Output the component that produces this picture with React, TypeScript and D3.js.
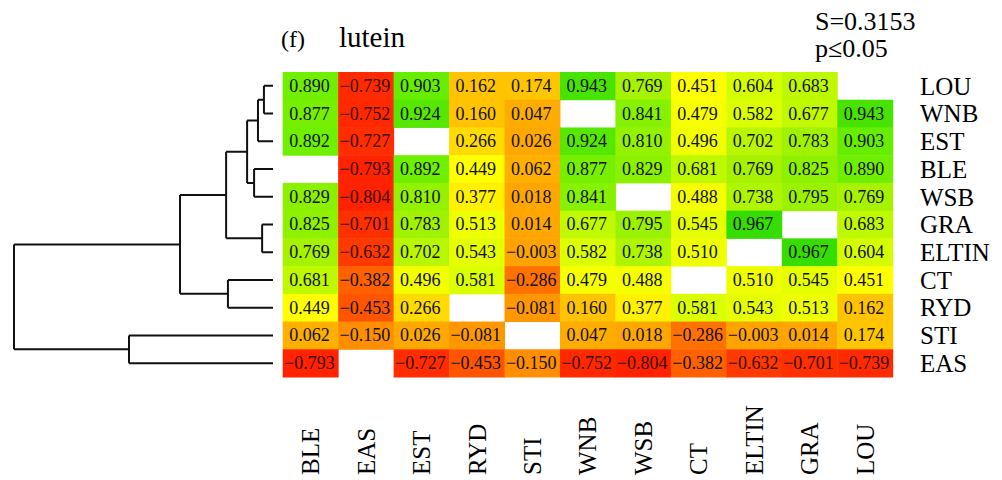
import React from 'react'
import * as d3 from 'd3'

const width = 1002
const height = 480
const font = '"Liberation Serif", "Times New Roman", serif'

// rows top to bottom, columns left to right
const rowNames = ['LOU', 'WNB', 'EST', 'BLE', 'WSB', 'GRA', 'ELTIN', 'CT', 'RYD', 'STI', 'EAS']
const colNames = ['BLE', 'EAS', 'EST', 'RYD', 'STI', 'WNB', 'WSB', 'CT', 'ELTIN', 'GRA', 'LOU']

const rowLOU = [0.890, -0.739, 0.903, 0.162, 0.174, 0.943, 0.769, 0.451, 0.604, 0.683, null]
const rowWNB = [0.877, -0.752, 0.924, 0.160, 0.047, null, 0.841, 0.479, 0.582, 0.677, 0.943]
const rowEST = [0.892, -0.727, null, 0.266, 0.026, 0.924, 0.810, 0.496, 0.702, 0.783, 0.903]
const rowBLE = [null, -0.793, 0.892, 0.449, 0.062, 0.877, 0.829, 0.681, 0.769, 0.825, 0.890]
const rowWSB = [0.829, -0.804, 0.810, 0.377, 0.018, 0.841, null, 0.488, 0.738, 0.795, 0.769]
const rowGRA = [0.825, -0.701, 0.783, 0.513, 0.014, 0.677, 0.795, 0.545, 0.967, null, 0.683]
const rowELTIN = [0.769, -0.632, 0.702, 0.543, -0.003, 0.582, 0.738, 0.510, null, 0.967, 0.604]
const rowCT = [0.681, -0.382, 0.496, 0.581, -0.286, 0.479, 0.488, null, 0.510, 0.545, 0.451]
const rowRYD = [0.449, -0.453, 0.266, null, -0.081, 0.160, 0.377, 0.581, 0.543, 0.513, 0.162]
const rowSTI = [0.062, -0.150, 0.026, -0.081, null, 0.047, 0.018, -0.286, -0.003, 0.014, 0.174]
const rowEAS = [-0.793, null, -0.727, -0.453, -0.150, -0.752, -0.804, -0.382, -0.632, -0.701, -0.739]

const matrix = [rowLOU, rowWNB, rowEST, rowBLE, rowWSB, rowGRA, rowELTIN, rowCT, rowRYD, rowSTI, rowEAS]

// colour ramp, red -> orange -> yellow -> green
const colorStops = [-0.8, -0.45, -0.29, -0.15, 0, 0.16, 0.27, 0.45, 0.6, 0.77, 0.89, 0.97]
const colorRange = ['#ff2200', '#ff5500', '#ff7000', '#ff8e00', '#ffa300', '#ffc300', '#ffdc00', '#ffff00', '#d6ff00', '#a6f200', '#70f000', '#33dd00']

// dendrogram merges: [node, left, right, height (normalised)]
const linkages: [string, string, string, number][] = [
  ['n1', 'LOU', 'WNB', 0.035],
  ['n2', 'n1', 'EST', 0.058],
  ['n3', 'BLE', 'WSB', 0.073],
  ['n4', 'n2', 'n3', 0.1],
  ['n5', 'GRA', 'ELTIN', 0.042],
  ['n6', 'n4', 'n5', 0.181],
  ['n7', 'CT', 'RYD', 0.174],
  ['n8', 'n6', 'n7', 0.359],
  ['n9', 'STI', 'EAS', 0.556],
  ['n10', 'n8', 'n9', 1.0],
]

const titleTag = '(f)'
const titleText = 'lutein'
const statLines = ['S=0.3153', 'p≤0.05']

type TNode = { name: string; h: number; children?: TNode[] }

const buildTree = (): TNode => {
  const nodes: Record<string, TNode> = {}
  rowNames.forEach(n => (nodes[n] = { name: n, h: 0 }))
  linkages.forEach(([id, a, b, h]) => {
    nodes[id] = { name: id, h, children: [nodes[a], nodes[b]] }
  })
  return nodes[linkages[linkages.length - 1][0]]
}

const App = () => {
  const x = d3.scaleBand().domain(colNames).range([282.7, 892.7])
  const y = d3.scaleBand().domain(rowNames).range([72, 377])
  const color = d3.scaleLinear<string>().domain(colorStops).range(colorRange).clamp(true)
  const fmt = d3.format('.3f')

  const xDen = d3.scaleLinear().domain([0, 1]).range([273, 14])
  const root = d3.hierarchy(buildTree())
  // leaf y from row scale, parents at mean of children
  root.eachAfter((d: any) => {
    if (!d.children) d.yy = (y(d.data.name) as number) + y.bandwidth() / 2
    else d.yy = d3.mean(d.children, (c: any) => c.yy)
  })
  const links: string[] = []
  root.each((d: any) => {
    if (!d.children) return
    const px = xDen(d.data.h)
    const [c1, c2] = d.children
    links.push(`M${px},${c1.yy}V${c2.yy}`)
    d.children.forEach((c: any) => links.push(`M${px},${c.yy}H${xDen(c.data.h)}`))
  })

  return (
    <svg width={width} height={height} style={{ position: 'absolute', left: 0, top: 0, background: '#fff' }}
      fontFamily={font}>
      <text x={281} y={47} fontSize={24}>{titleTag}</text>
      <text x={339} y={47} fontSize={29}>{titleText}</text>
      {statLines.map((s, i) => (
        <text key={s} x={815} y={30 + i * 27} fontSize={26}>{s}</text>
      ))}

      {matrix.map((row, ri) =>
        row.map((v, ci) => v === null ? null : (
          <g key={`${ri}-${ci}`}>
            <rect x={x(colNames[ci])} y={y(rowNames[ri])} width={x.bandwidth() + 0.5} height={y.bandwidth() + 0.5}
              fill={color(v)} />
            <text x={(x(colNames[ci]) as number) + x.bandwidth() / 2 - 1} y={(y(rowNames[ri]) as number) + y.bandwidth() / 2}
              dy="0.33em" textAnchor="middle" fontSize={18} fill={v < -0.5 ? '#3a0a00' : '#111'}>
              {fmt(v)}
            </text>
          </g>
        ))
      )}

      {rowNames.map(r => (
        <text key={r} x={920} y={(y(r) as number) + y.bandwidth() / 2} dy="0.35em" fontSize={25}>{r}</text>
      ))}

      {colNames.map(c => {
        const cx = (x(c) as number) + x.bandwidth() / 2
        return (
          <text key={c} transform={`translate(${cx},475) rotate(-90)`} dy="0.35em" fontSize={25}>{c}</text>
        )
      })}

      <path d={links.join('')} fill="none" stroke="#111" strokeWidth={2} />
    </svg>
  )
}

export default App
